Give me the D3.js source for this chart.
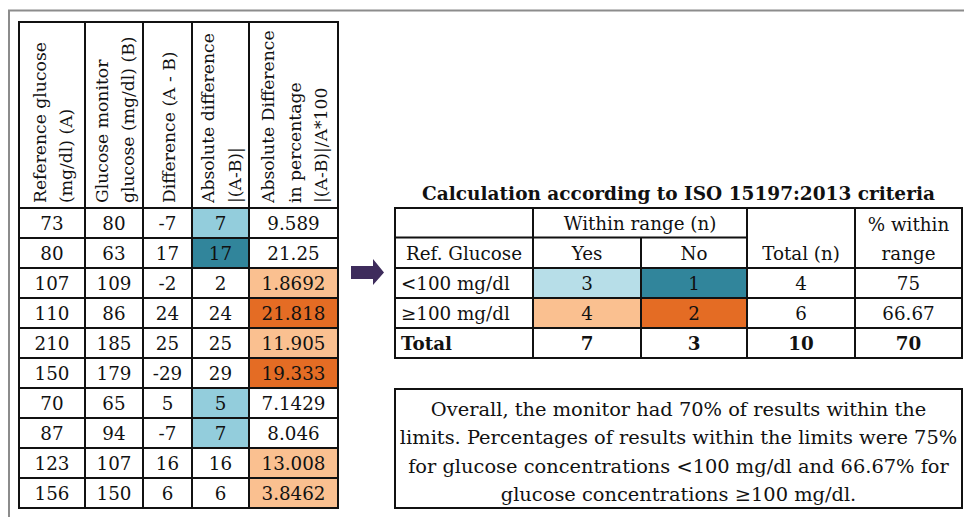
<!DOCTYPE html>
<html lang="en">
    <head>
        <meta charset="utf-8">
        <title>Glucose monitor accuracy, ISO 15197:2013</title>

        <!-- d3 library for drawing the tables -->
        <script type="text/javascript" src="https://d3js.org/d3.v7.min.js"></script>

        <style type="text/css">
            body { margin: 0; background: #fff; }
            text { font-family: "DejaVu Serif", serif; fill: #111; }
        </style>
    </head>
    <body>
        <script>

        // Left table: the ten paired readings
        var refGlucose     = [73, 80, 107, 110, 210, 150, 70, 87, 123, 156];
        var monitorGlucose = [80, 63, 109, 86, 185, 179, 65, 94, 107, 150];
        var difference     = [-7, 17, -2, 24, 25, -29, 5, -7, 16, 6];
        var absDifference  = [7, 17, 2, 24, 25, 29, 5, 7, 16, 6];
        var pctDifference  = ["9.589", "21.25", "1.8692", "21.818", "11.905", "19.333", "7.1429", "8.046", "13.008", "3.8462"];

        var leftHeaders = [
            ["Reference glucose", "(mg/dl) (A)"],
            ["Glucose monitor", "glucose (mg/dl) (B)"],
            ["Difference (A - B)"],
            ["Absolute difference", "|(A-B)|"],
            ["Absolute Difference", "in percentage", "|(A-B)|/A*100"]
        ];

        // Right table: ISO 15197:2013 summary
        var isoTitle   = "Calculation according to ISO 15197:2013 criteria";
        var rangeRows  = ["<100 mg/dl", "\u2265100 mg/dl", "Total"];
        var withinYes  = [3, 4, 7];
        var withinNo   = [1, 2, 3];
        var totalN     = [4, 6, 10];
        var pctWithin  = ["75", "66.67", "70"];

        var summaryLines = [
            "Overall, the monitor had 70% of results within the",
            "limits. Percentages of results within the limits were 75%",
            "for glucose concentrations <100 mg/dl and 66.67% for",
            "glucose concentrations \u2265100 mg/dl."
        ];

        // Colours for within / outside the limits
        var lightBlue = "#93cddc", darkTeal = "#31859b";
        var lightBlue2 = "#b7dee8";
        var lightOrange = "#fac090", darkOrange = "#e46c24";

        var fsCell = 18.3, fsHead = 17.2, fsSum = 19.4, fsTitle = 18.5;

        var w = 964, h = 517;
        var svg = d3.select("body").append("svg")
                    .attr("width", w)
                    .attr("height", h);

        // Grey frame around the figure
        svg.append("path")
           .attr("d", "M9," + h + "V10.5H" + w)
           .attr("fill", "none")
           .attr("stroke", "#8c8c8c")
           .attr("stroke-width", 2);

        // ---------- left table ----------
        var leftEdges = [19, 85, 143, 192, 249, 338];
        var headTop = 22, headBottom = 208, bodyBottom = 508;

        var rowY = d3.scaleBand()
                     .domain(d3.range(refGlucose.length))
                     .range([headBottom, bodyBottom]);

        var colX = function(i) { return leftEdges[i]; };
        var colW = function(i) { return leftEdges[i + 1] - leftEdges[i]; };

        var leftRows = refGlucose.map(function(d, i) {
            return {
                ref: d,
                cells: [d, monitorGlucose[i], difference[i], absDifference[i], pctDifference[i]]
            };
        });

        // fill for a cell: abs diff for <100, % diff for >=100 (15 mg/dl or 15 %)
        function cellFill(row, c) {
            if (row.ref < 100 && c === 3) return row.cells[3] <= 15 ? lightBlue : darkTeal;
            if (row.ref >= 100 && c === 4) return (+row.cells[4]) <= 15 ? lightOrange : darkOrange;
            return "#fff";
        }

        var lt = svg.append("g");

        // header cells
        lt.selectAll("rect.head")
          .data(leftHeaders)
          .enter().append("rect")
          .attr("class", "head")
          .attr("x", function(d, i) { return colX(i); })
          .attr("y", headTop)
          .attr("width", function(d, i) { return colW(i); })
          .attr("height", headBottom - headTop)
          .attr("fill", "#fff");

        // rotated header labels
        var lineGap = 26.3;
        leftHeaders.forEach(function(lines, i) {
            var cx = colX(i) + colW(i) / 2;
            lines.forEach(function(s, k) {
                var bx = cx - (lines.length - 1) / 2 * lineGap + k * lineGap + 7;
                lt.append("text")
                  .attr("transform", "translate(" + bx + "," + (headBottom - 5) + ") rotate(-90)")
                  .attr("font-size", fsHead)
                  .text(s);
            });
        });

        // body rows
        var rowsG = lt.selectAll("g.row")
                      .data(leftRows)
                      .enter().append("g")
                      .attr("class", "row")
                      .attr("transform", function(d, i) { return "translate(0," + rowY(i) + ")"; });

        rowsG.selectAll("rect")
             .data(function(d) { return d.cells.map(function(v, c) { return { row: d, v: v, c: c }; }); })
             .enter().append("rect")
             .attr("x", function(d) { return colX(d.c); })
             .attr("width", function(d) { return colW(d.c); })
             .attr("height", rowY.bandwidth())
             .attr("fill", function(d) { return cellFill(d.row, d.c); });

        rowsG.selectAll("text")
             .data(function(d) { return d.cells.map(function(v, c) { return { v: v, c: c }; }); })
             .enter().append("text")
             .attr("x", function(d) { return colX(d.c) + colW(d.c) / 2; })
             .attr("y", rowY.bandwidth() / 2 + 6.7)
             .attr("text-anchor", "middle")
             .attr("font-size", fsCell)
             .text(function(d) { return d.v; });

        // grid lines
        var grid = lt.append("g").attr("stroke", "#111").attr("stroke-width", 2);
        leftEdges.forEach(function(x) {
            grid.append("line").attr("x1", x).attr("x2", x).attr("y1", headTop).attr("y2", bodyBottom);
        });
        [headTop].concat(d3.range(refGlucose.length).map(rowY), [bodyBottom]).forEach(function(y) {
            grid.append("line").attr("x1", leftEdges[0] - 1).attr("x2", leftEdges[5] + 1).attr("y1", y).attr("y2", y);
        });

        // ---------- arrow ----------
        svg.append("path")
           .attr("d", "M351,266H373V259L384,272.5L373,285V279H351Z")
           .attr("fill", "#3e2c5c");

        // ---------- right table ----------
        var rEdges = [395, 533, 641, 747, 855, 962];
        var rTop = 208, rSub = 237.5;
        var rRowY = d3.scaleBand()
                      .domain(d3.range(rangeRows.length))
                      .range([268, 358]);

        var rt = svg.append("g");

        rt.append("text")
          .attr("x", (rEdges[0] + rEdges[5]) / 2)
          .attr("y", 200)
          .attr("text-anchor", "middle")
          .attr("font-size", fsTitle)
          .attr("font-weight", "bold")
          .text(isoTitle);

        var rData = rangeRows.map(function(r, i) {
            return { label: r, cells: [withinYes[i], withinNo[i], totalN[i], pctWithin[i]], bold: r === "Total", i: i };
        });

        var rFill = [[lightBlue2, darkTeal], [lightOrange, darkOrange]];

        var rRows = rt.selectAll("g.rrow")
                      .data(rData)
                      .enter().append("g")
                      .attr("class", "rrow")
                      .attr("transform", function(d) { return "translate(0," + rRowY(d.i) + ")"; });

        rRows.selectAll("rect")
             .data(function(d) { return d.cells.map(function(v, c) { return { r: d.i, c: c }; }); })
             .enter().append("rect")
             .attr("x", function(d) { return rEdges[d.c + 1]; })
             .attr("width", function(d) { return rEdges[d.c + 2] - rEdges[d.c + 1]; })
             .attr("height", rRowY.bandwidth())
             .attr("fill", function(d) { return (d.r < 2 && d.c < 2) ? rFill[d.r][d.c] : "#fff"; });

        rRows.append("text")
             .attr("x", rEdges[0] + 6)
             .attr("y", rRowY.bandwidth() / 2 + 6.7)
             .attr("font-size", fsCell)
             .attr("font-weight", function(d) { return d.bold ? "bold" : null; })
             .text(function(d) { return d.label; });

        rRows.selectAll("text.v")
             .data(function(d) { return d.cells.map(function(v, c) { return { v: v, c: c, bold: d.bold }; }); })
             .enter().append("text")
             .attr("class", "v")
             .attr("x", function(d) { return (rEdges[d.c + 1] + rEdges[d.c + 2]) / 2; })
             .attr("y", rRowY.bandwidth() / 2 + 6.7)
             .attr("text-anchor", "middle")
             .attr("font-size", fsCell)
             .attr("font-weight", function(d) { return d.bold ? "bold" : null; })
             .text(function(d) { return d.v; });

        // header labels
        var rHead = [
            { t: "Within range (n)", x: (rEdges[1] + rEdges[3]) / 2, y: 230 },
            { t: "Ref. Glucose",     x: (rEdges[0] + rEdges[1]) / 2, y: 260 },
            { t: "Yes",              x: (rEdges[1] + rEdges[2]) / 2, y: 260 },
            { t: "No",               x: (rEdges[2] + rEdges[3]) / 2, y: 260 },
            { t: "Total (n)",        x: (rEdges[3] + rEdges[4]) / 2, y: 260 },
            { t: "% within",         x: (rEdges[4] + rEdges[5]) / 2, y: 231 },
            { t: "range",            x: (rEdges[4] + rEdges[5]) / 2, y: 260 }
        ];
        rt.selectAll("text.h")
          .data(rHead)
          .enter().append("text")
          .attr("class", "h")
          .attr("x", function(d) { return d.x; })
          .attr("y", function(d) { return d.y; })
          .attr("text-anchor", "middle")
          .attr("font-size", fsCell)
          .text(function(d) { return d.t; });

        // right table grid
        var rg = rt.append("g").attr("stroke", "#111").attr("stroke-width", 2);
        rEdges.forEach(function(x, i) {
            var y1 = (i === 2) ? rSub : rTop;
            rg.append("line").attr("x1", x).attr("x2", x).attr("y1", y1).attr("y2", 358);
        });
        rg.append("line").attr("x1", rEdges[0] - 1).attr("x2", rEdges[5] + 1).attr("y1", rTop).attr("y2", rTop);
        rg.append("line").attr("x1", rEdges[0]).attr("x2", rEdges[3]).attr("y1", rSub).attr("y2", rSub);
        d3.range(rangeRows.length).map(rRowY).concat([358]).forEach(function(y) {
            rg.append("line").attr("x1", rEdges[0] - 1).attr("x2", rEdges[5] + 1).attr("y1", y).attr("y2", y);
        });

        // ---------- summary box ----------
        svg.append("rect")
           .attr("x", 395).attr("y", 389)
           .attr("width", 567).attr("height", 119)
           .attr("fill", "#fff")
           .attr("stroke", "#111")
           .attr("stroke-width", 2);

        var lineY = d3.scaleLinear().domain([0, 3]).range([416, 501]);
        svg.selectAll("text.sum")
           .data(summaryLines)
           .enter().append("text")
           .attr("class", "sum")
           .attr("x", (395 + 962) / 2)
           .attr("y", function(d, i) { return lineY(i); })
           .attr("text-anchor", "middle")
           .attr("font-size", fsSum)
           .text(function(d) { return d; });

        </script>
    </body>
</html>
